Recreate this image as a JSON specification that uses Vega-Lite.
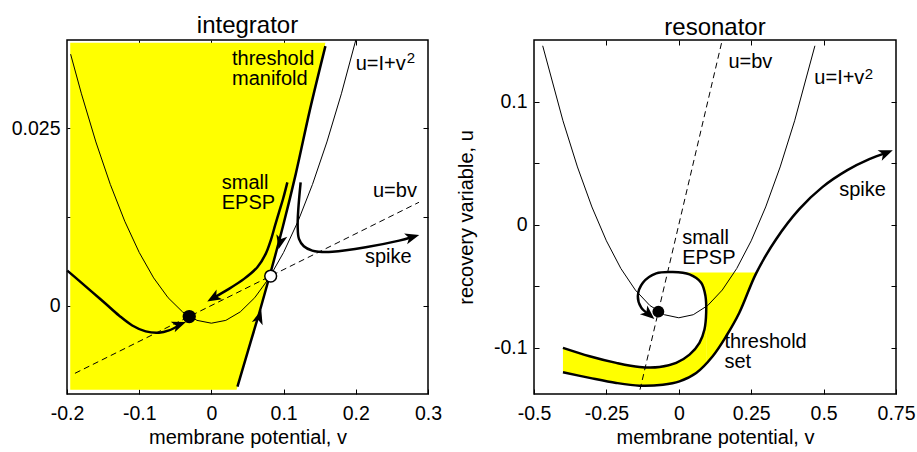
{
  "$schema": "https://vega.github.io/schema/vega-lite/v6.json",
  "background": "white",
  "padding": {"left": 10, "top": 13, "right": 2, "bottom": 2},
  "spacing": 12,
  "config": {
    "font": "Liberation Sans",
    "view": {"stroke": "black", "strokeWidth": 1.5},
    "axis": {"domain": false, "grid": false, "tickSize": -5, "tickColor": "black", "tickWidth": 1, "labelColor": "black", "labelFontSize": 19.5, "labelPadding": 12, "labelFlush": false, "labelOverlap": false, "titleColor": "black", "titleFontSize": 20, "titleFontWeight": "normal", "labelFont": "Liberation Sans", "titleFont": "Liberation Sans"},
    "axisX": {"labelPadding": 15, "titlePadding": 5},
    "title": {"fontSize": 24, "fontWeight": "normal", "color": "black", "font": "Liberation Sans", "baseline": "alphabetic", "offset": 6, "dy": 6}
  },
  "datasets": {
    "L_fill": [
      {"u": -0.0119, "v": -0.1955, "v2": 0.0349},
      {"u": -0.0064, "v": -0.1955, "v2": 0.0507},
      {"u": -0.0012, "v": -0.1955, "v2": 0.0659},
      {"u": 0.0047, "v": -0.1955, "v2": 0.0821},
      {"u": 0.0112, "v": -0.1955, "v2": 0.0992},
      {"u": 0.0186, "v": -0.1955, "v2": 0.1168},
      {"u": 0.0277, "v": -0.1955, "v2": 0.1366},
      {"u": 0.0371, "v": -0.1955, "v2": 0.1579}
    ],
    "L_para": [
      {"v": -0.195, "u": 0.0355}, {"v": -0.18, "u": 0.0299}, {"v": -0.16, "u": 0.0231}, {"v": -0.14, "u": 0.0171},
      {"v": -0.12, "u": 0.0119}, {"v": -0.10, "u": 0.0075}, {"v": -0.08, "u": 0.0039}, {"v": -0.06, "u": 0.0011},
      {"v": -0.04, "u": -0.0009}, {"v": -0.02, "u": -0.0021}, {"v": 0, "u": -0.0025}, {"v": 0.02, "u": -0.0021},
      {"v": 0.04, "u": -0.0009}, {"v": 0.06, "u": 0.0011}, {"v": 0.08, "u": 0.0039}, {"v": 0.10, "u": 0.0075},
      {"v": 0.12, "u": 0.0119}, {"v": 0.14, "u": 0.0171}, {"v": 0.16, "u": 0.0231}, {"v": 0.18, "u": 0.0299},
      {"v": 0.2, "u": 0.0375}
    ],
    "L_dash": [{"v": -0.189, "u": -0.00958}, {"v": 0.2875, "u": 0.01458}],
    "L_traj": [
      {"id": "a", "i": 0, "v": -0.1996, "u": 0.00493},
      {"id": "a", "i": 1, "v": -0.1834, "u": 0.00352},
      {"id": "a", "i": 2, "v": -0.165, "u": 0.00189},
      {"id": "a", "i": 3, "v": -0.1464, "u": 0.00024},
      {"id": "a", "i": 4, "v": -0.128, "u": -0.00141},
      {"id": "a", "i": 5, "v": -0.1096, "u": -0.00282},
      {"id": "a", "i": 6, "v": -0.091, "u": -0.00366},
      {"id": "a", "i": 7, "v": -0.0726, "u": -0.00385},
      {"id": "a", "i": 8, "v": -0.0587, "u": -0.00352},
      {"id": "a", "i": 9, "v": -0.0462, "u": -0.0029},
      {"id": "b", "i": 0, "v": 0.1052, "u": 0.01739},
      {"id": "b", "i": 1, "v": 0.0992, "u": 0.01504},
      {"id": "b", "i": 2, "v": 0.0936, "u": 0.01316},
      {"id": "b", "i": 3, "v": 0.0881, "u": 0.01127},
      {"id": "b", "i": 4, "v": 0.0821, "u": 0.00916},
      {"id": "b", "i": 5, "v": 0.0752, "u": 0.00729},
      {"id": "b", "i": 6, "v": 0.0636, "u": 0.00541},
      {"id": "b", "i": 7, "v": 0.0452, "u": 0.00376},
      {"id": "b", "i": 8, "v": 0.022, "u": 0.00221},
      {"id": "b", "i": 9, "v": 0.0039, "u": 0.00113},
      {"id": "c", "i": 0, "v": 0.0361, "u": -0.01146},
      {"id": "c", "i": 1, "v": 0.0507, "u": -0.0064},
      {"id": "c", "i": 2, "v": 0.0659, "u": -0.0012},
      {"id": "c", "i": 3, "v": 0.0821, "u": 0.0047},
      {"id": "c", "i": 4, "v": 0.0992, "u": 0.01123},
      {"id": "c", "i": 5, "v": 0.1168, "u": 0.01856},
      {"id": "c", "i": 6, "v": 0.1366, "u": 0.0277},
      {"id": "c", "i": 7, "v": 0.1579, "u": 0.03664},
      {"id": "d", "i": 0, "v": 0.1236, "u": 0.01739},
      {"id": "d", "i": 1, "v": 0.1204, "u": 0.01363},
      {"id": "d", "i": 2, "v": 0.1195, "u": 0.01127},
      {"id": "d", "i": 3, "v": 0.1213, "u": 0.0094},
      {"id": "d", "i": 4, "v": 0.128, "u": 0.00837},
      {"id": "d", "i": 5, "v": 0.1397, "u": 0.00775},
      {"id": "d", "i": 6, "v": 0.149, "u": 0.0076},
      {"id": "d", "i": 7, "v": 0.1675, "u": 0.0076},
      {"id": "d", "i": 8, "v": 0.2137, "u": 0.00823},
      {"id": "d", "i": 9, "v": 0.26, "u": 0.00916},
      {"id": "d", "i": 10, "v": 0.2771, "u": 0.00964}
    ],
    "L_arrows": [
      {"v": -0.0457, "u": -0.00273, "dir": 69.6},
      {"v": 0.0039, "u": 0.00113, "dir": 239.8},
      {"v": 0.0956, "u": 0.00905, "dir": 193.4},
      {"v": 0.0659, "u": -0.00173, "dir": 16.7},
      {"v": 0.2771, "u": 0.00964, "dir": 74.7}
    ],
    "L_dots": [
      {"v": -0.0307, "u": -0.00156, "kind": "stable"},
      {"v": 0.0821, "u": 0.00416, "kind": "saddle"}
    ],
    "L_text": [
      {"v": 0.0285, "u": 0.0339, "label": "threshold"},
      {"v": 0.0285, "u": 0.0312, "label": "manifold"},
      {"v": 0.1999, "u": 0.0333, "label": "u=I+v"},
      {"v": 0.0143, "u": 0.01645, "label": "small"},
      {"v": 0.0143, "u": 0.01363, "label": "EPSP"},
      {"v": 0.2238, "u": 0.0153, "label": "u=bv"},
      {"v": 0.2127, "u": 0.006, "label": "spike"}
    ],
    "L_sup": [{"v": 0.2707, "u": 0.0342, "label": "2"}],
    "R_fillA": [
      {"v": -0.4, "u": -0.1199, "u2": -0.1},
      {"v": -0.308, "u": -0.1244, "u2": -0.1068},
      {"v": -0.216, "u": -0.1285, "u2": -0.1122},
      {"v": -0.1356, "u": -0.1307, "u2": -0.1155},
      {"v": -0.0666, "u": -0.1302, "u2": -0.1155},
      {"v": -0.009, "u": -0.1278, "u2": -0.1122},
      {"v": 0.037, "u": -0.1231, "u2": -0.1055},
      {"v": 0.0714, "u": -0.1177, "u2": -0.0959},
      {"v": 0.0886, "u": -0.1136, "u2": -0.0851},
      {"v": 0.0945, "u": -0.1122, "u2": -0.0715}
    ],
    "R_fillB": [
      {"u": -0.1122, "v": 0.0945, "v2": 0.0945},
      {"u": -0.1068, "v": 0.0945, "v2": 0.117},
      {"u": -0.0906, "v": 0.0945, "v2": 0.1635},
      {"u": -0.0715, "v": 0.0945, "v2": 0.209},
      {"u": -0.058, "v": 0.0921, "v2": 0.235},
      {"u": -0.0471, "v": 0.0773, "v2": 0.2537},
      {"u": -0.0403, "v": 0.037, "v2": 0.265},
      {"u": -0.0389, "v": 0.005, "v2": 0.268}
    ],
    "R_para": [
      {"v": -0.47, "u": 0.1453}, {"v": -0.4, "u": 0.0844}, {"v": -0.35, "u": 0.0469}, {"v": -0.3, "u": 0.0144},
      {"v": -0.25, "u": -0.0131}, {"v": -0.2, "u": -0.0356}, {"v": -0.15, "u": -0.0531}, {"v": -0.1, "u": -0.0656},
      {"v": -0.05, "u": -0.0731}, {"v": 0, "u": -0.0756}, {"v": 0.05, "u": -0.0731}, {"v": 0.1, "u": -0.0656},
      {"v": 0.15, "u": -0.0531}, {"v": 0.2, "u": -0.0356}, {"v": 0.25, "u": -0.0131}, {"v": 0.3, "u": 0.0144},
      {"v": 0.35, "u": 0.0469}, {"v": 0.4, "u": 0.0844}, {"v": 0.47, "u": 0.1453}
    ],
    "R_dash": [{"v": -0.134, "u": -0.134}, {"v": 0.148, "u": 0.148}],
    "R_traj": [
      {"id": "lower", "i": 0, "v": -0.4, "u": -0.1199},
      {"id": "lower", "i": 1, "v": -0.308, "u": -0.1244},
      {"id": "lower", "i": 2, "v": -0.216, "u": -0.1285},
      {"id": "lower", "i": 3, "v": -0.1356, "u": -0.1307},
      {"id": "lower", "i": 4, "v": -0.055, "u": -0.1299},
      {"id": "lower", "i": 5, "v": 0.0024, "u": -0.1272},
      {"id": "lower", "i": 6, "v": 0.06, "u": -0.1204},
      {"id": "lower", "i": 7, "v": 0.117, "u": -0.1068},
      {"id": "lower", "i": 8, "v": 0.1635, "u": -0.0906},
      {"id": "lower", "i": 9, "v": 0.209, "u": -0.0715},
      {"id": "lower", "i": 10, "v": 0.267, "u": -0.0395},
      {"id": "lower", "i": 11, "v": 0.336, "u": -0.0118},
      {"id": "lower", "i": 12, "v": 0.416, "u": 0.0126},
      {"id": "lower", "i": 13, "v": 0.4957, "u": 0.0305},
      {"id": "lower", "i": 14, "v": 0.582, "u": 0.0443},
      {"id": "lower", "i": 15, "v": 0.6578, "u": 0.0532},
      {"id": "lower", "i": 16, "v": 0.713, "u": 0.0581},
      {"id": "upper", "i": 0, "v": -0.4, "u": -0.1},
      {"id": "upper", "i": 1, "v": -0.308, "u": -0.1068},
      {"id": "upper", "i": 2, "v": -0.216, "u": -0.1122},
      {"id": "upper", "i": 3, "v": -0.1356, "u": -0.1155},
      {"id": "upper", "i": 4, "v": -0.0666, "u": -0.1155},
      {"id": "upper", "i": 5, "v": -0.009, "u": -0.1122},
      {"id": "upper", "i": 6, "v": 0.037, "u": -0.1055},
      {"id": "upper", "i": 7, "v": 0.0714, "u": -0.0959},
      {"id": "upper", "i": 8, "v": 0.0886, "u": -0.0851},
      {"id": "upper", "i": 9, "v": 0.0945, "u": -0.0715},
      {"id": "upper", "i": 10, "v": 0.0921, "u": -0.058},
      {"id": "upper", "i": 11, "v": 0.0773, "u": -0.0471},
      {"id": "upper", "i": 12, "v": 0.037, "u": -0.0403},
      {"id": "upper", "i": 13, "v": -0.0207, "u": -0.0384},
      {"id": "upper", "i": 14, "v": -0.078, "u": -0.0395},
      {"id": "upper", "i": 15, "v": -0.124, "u": -0.0471},
      {"id": "upper", "i": 16, "v": -0.1414, "u": -0.058},
      {"id": "upper", "i": 17, "v": -0.1297, "u": -0.0674},
      {"id": "upper", "i": 18, "v": -0.1056, "u": -0.0724}
    ],
    "R_arrows": [
      {"v": 0.713, "u": 0.0581, "dir": 68.2},
      {"v": -0.1056, "u": -0.0724, "dir": 130.6}
    ],
    "R_dots": [{"v": -0.0706, "u": -0.0706, "kind": "stable"}],
    "R_text": [
      {"v": 0.1714, "u": 0.1274, "label": "u=bv"},
      {"v": 0.468, "u": 0.1144, "label": "u=I+v"},
      {"v": 0.554, "u": 0.0235, "label": "spike"},
      {"v": 0.0117, "u": -0.0159, "label": "small"},
      {"v": 0.0117, "u": -0.0322, "label": "EPSP"},
      {"v": 0.1576, "u": -0.1, "label": "threshold"},
      {"v": 0.1576, "u": -0.1163, "label": "set"}
    ],
    "R_sup": [{"v": 0.642, "u": 0.1185, "label": "2"}]
  },
  "hconcat": [
    {
      "width": 361,
      "height": 354,
      "title": {"text": "integrator"},
      "encoding": {
        "x": {"field": "v", "type": "quantitative", "scale": {"domain": [-0.2, 0.3], "nice": false, "zero": false},
              "axis": {"values": [-0.2, -0.1, 0, 0.1, 0.2, 0.3], "labelExpr": "replace(format(datum.value, '~g'), '\u2212', '-')", "title": "membrane potential, v"}},
        "y": {"field": "u", "type": "quantitative", "scale": {"domain": [-0.0125, 0.0375], "nice": false, "zero": false},
              "axis": {"values": [0, 0.0125, 0.025], "labelExpr": "datum.value == 0 ? '0' : datum.value == 0.025 ? '0.025' : ''", "title": null}}
      },
      "layer": [
        {
          "layer": [
            {"data": {"name": "L_fill"}, "mark": {"type": "area", "orient": "horizontal", "color": "#ffff00"}, "encoding": {"x2": {"field": "v2"}}},
            {"data": {"name": "L_para"}, "mark": {"type": "line", "color": "black", "strokeWidth": 1}, "encoding": {}},
            {"data": {"name": "L_dash"}, "mark": {"type": "line", "color": "black", "strokeWidth": 1, "strokeDash": [6, 4]}, "encoding": {}},
            {"data": {"name": "L_traj"}, "mark": {"type": "line", "color": "black", "strokeWidth": 2.5, "strokeJoin": "round", "interpolate": "catmull-rom"}, "encoding": {"detail": {"field": "id"}, "order": {"field": "i", "type": "quantitative"}}},
            {"data": {"name": "L_arrows"}, "mark": {"type": "point", "shape": "M0,-1L0.7,0.75L0,0.3L-0.7,0.75Z", "filled": true, "color": "black", "opacity": 1, "size": 260}, "encoding": {"angle": {"field": "dir", "type": "quantitative", "scale": null}}},
            {"data": {"name": "L_dots"}, "mark": {"type": "point", "shape": "circle", "filled": true, "stroke": "black", "strokeWidth": 1.5, "opacity": 1, "size": 140}, "encoding": {"fill": {"field": "kind", "type": "nominal", "scale": {"domain": ["stable", "saddle"], "range": ["black", "white"]}, "legend": null}}},
            {"data": {"name": "L_text"}, "mark": {"type": "text", "align": "left", "baseline": "alphabetic", "fontSize": 20, "color": "black"}, "encoding": {"text": {"field": "label"}}},
            {"data": {"name": "L_sup"}, "mark": {"type": "text", "align": "left", "baseline": "alphabetic", "fontSize": 15, "color": "black"}, "encoding": {"text": {"field": "label"}}}
          ]
        },
        {
          "data": {"name": "L_dash"},
          "mark": {"type": "point", "opacity": 0},
          "encoding": {
            "x": {"field": "v", "type": "quantitative", "scale": {"domain": [-0.2, 0.3], "nice": false, "zero": false}, "axis": {"orient": "top", "values": [-0.1, 0, 0.1, 0.2], "labels": false, "title": null}},
            "y": {"field": "u", "type": "quantitative", "scale": {"domain": [-0.0125, 0.0375], "nice": false, "zero": false}, "axis": {"orient": "right", "values": [0, 0.0125, 0.025], "labels": false, "title": null}}
          }
        }
      ],
      "resolve": {"axis": {"x": "independent", "y": "independent"}}
    },
    {
      "width": 362,
      "height": 354,
      "title": {"text": "resonator"},
      "encoding": {
        "x": {"field": "v", "type": "quantitative", "scale": {"domain": [-0.5, 0.75], "nice": false, "zero": false},
              "axis": {"values": [-0.5, -0.25, 0, 0.25, 0.5, 0.75], "labelExpr": "replace(format(datum.value, '~g'), '\u2212', '-')", "title": "membrane potential, v"}},
        "y": {"field": "u", "type": "quantitative", "scale": {"domain": [-0.1375, 0.15], "nice": false, "zero": false},
              "axis": {"values": [-0.1, -0.05, 0, 0.05, 0.1], "labelExpr": "abs(datum.value) == 0.05 ? '' : replace(format(datum.value, '~g'), '\u2212', '-')", "title": "recovery variable, u", "titlePadding": 17}}
      },
      "layer": [
        {
          "layer": [
            {"data": {"name": "R_fillA"}, "mark": {"type": "area", "orient": "vertical", "color": "#ffff00"}, "encoding": {"y2": {"field": "u2"}}},
            {"data": {"name": "R_fillB"}, "mark": {"type": "area", "orient": "horizontal", "color": "#ffff00"}, "encoding": {"x2": {"field": "v2"}}},
            {"data": {"name": "R_para"}, "mark": {"type": "line", "color": "black", "strokeWidth": 1}, "encoding": {}},
            {"data": {"name": "R_dash"}, "mark": {"type": "line", "color": "black", "strokeWidth": 1, "strokeDash": [6, 4]}, "encoding": {}},
            {"data": {"name": "R_traj"}, "mark": {"type": "line", "color": "black", "strokeWidth": 2.5, "strokeJoin": "round", "interpolate": "catmull-rom"}, "encoding": {"detail": {"field": "id"}, "order": {"field": "i", "type": "quantitative"}}},
            {"data": {"name": "R_arrows"}, "mark": {"type": "point", "shape": "M0,-1L0.7,0.75L0,0.3L-0.7,0.75Z", "filled": true, "color": "black", "opacity": 1, "size": 260}, "encoding": {"angle": {"field": "dir", "type": "quantitative", "scale": null}}},
            {"data": {"name": "R_dots"}, "mark": {"type": "point", "shape": "circle", "filled": true, "color": "black", "opacity": 1, "size": 140}, "encoding": {}},
            {"data": {"name": "R_text"}, "mark": {"type": "text", "align": "left", "baseline": "alphabetic", "fontSize": 20, "color": "black"}, "encoding": {"text": {"field": "label"}}},
            {"data": {"name": "R_sup"}, "mark": {"type": "text", "align": "left", "baseline": "alphabetic", "fontSize": 15, "color": "black"}, "encoding": {"text": {"field": "label"}}}
          ]
        },
        {
          "data": {"name": "R_dash"},
          "mark": {"type": "point", "opacity": 0},
          "encoding": {
            "x": {"field": "v", "type": "quantitative", "scale": {"domain": [-0.5, 0.75], "nice": false, "zero": false}, "axis": {"orient": "top", "values": [-0.25, 0, 0.25, 0.5], "labels": false, "title": null}},
            "y": {"field": "u", "type": "quantitative", "scale": {"domain": [-0.1375, 0.15], "nice": false, "zero": false}, "axis": {"orient": "right", "values": [-0.1, -0.05, 0, 0.05, 0.1], "labels": false, "title": null}}
          }
        }
      ],
      "resolve": {"axis": {"x": "independent", "y": "independent"}}
    }
  ]
}
